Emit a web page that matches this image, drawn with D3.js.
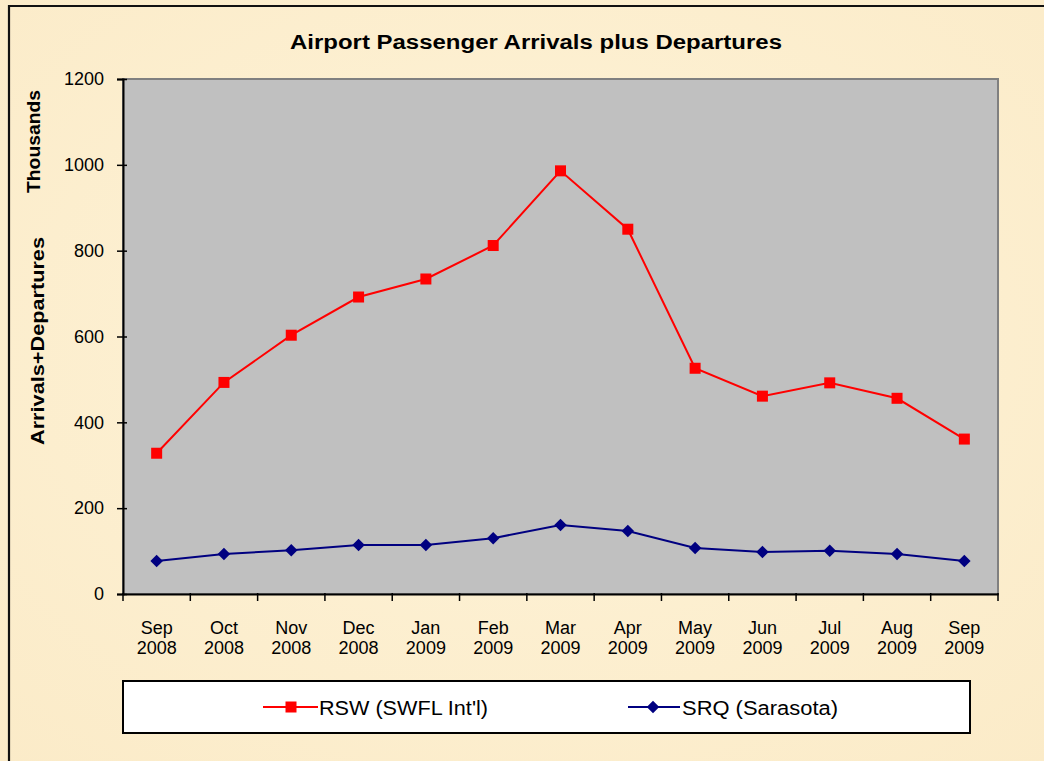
<!DOCTYPE html>
<html><head><meta charset="utf-8">
<script src="https://cdn.jsdelivr.net/npm/d3@7"></script>
<style>
html,body{margin:0;padding:0;background:#fdf1d4;}
svg{display:block;font-family:"Liberation Sans",Arial,sans-serif;}
</style></head>
<body><svg id="c" width="1044" height="761"></svg>
<script>
const categories = ["Sep 2008","Oct 2008","Nov 2008","Dec 2008","Jan 2009","Feb 2009","Mar 2009","Apr 2009","May 2009","Jun 2009","Jul 2009","Aug 2009","Sep 2009"];
const rswValues = [328, 493, 603, 692, 734, 812, 986, 850, 526, 461, 492, 456, 361];
const srqValues = [77, 93, 102, 114, 114, 130, 161, 147, 107, 98, 101, 93, 77];
const yTicks = [0, 200, 400, 600, 800, 1000, 1200];
const seriesNames = ["RSW (SWFL  Int'l)", "SRQ (Sarasota)"];

const svg = d3.select("#c");
const W = 1044, H = 761;

const defs = svg.append("defs");
const rg = defs.append("radialGradient").attr("id","bg").attr("cx","50%").attr("cy","45%").attr("r","75%");
rg.append("stop").attr("offset","0%").attr("stop-color","#fef3d8");
rg.append("stop").attr("offset","100%").attr("stop-color","#fbebc8");
svg.append("rect").attr("width",W).attr("height",H).attr("fill","url(#bg)");

svg.append("path").attr("d","M9,761 V6 H1044").attr("fill","none").attr("stroke","#111").attr("stroke-width",2.2);

const plot = {l:123, r:998, t:79, b:594};
const x = d3.scaleBand().domain(categories).range([plot.l, plot.r]).paddingInner(0).paddingOuter(0);
const y = d3.scaleLinear().domain([0,1200]).range([plot.b, plot.t]);

svg.append("rect").attr("x",plot.l).attr("y",plot.t).attr("width",plot.r-plot.l).attr("height",plot.b-plot.t)
  .attr("fill","#c0c0c0").attr("stroke","#808080").attr("stroke-width",2);

svg.append("text").attr("x",290).attr("y",49)
  .attr("font-weight","bold").attr("font-size",20).attr("fill","#000")
  .attr("textLength",492).attr("lengthAdjust","spacingAndGlyphs")
  .text("Airport Passenger Arrivals plus Departures");

const yAxis = d3.axisLeft(y).tickValues(yTicks).tickSize(6).tickPadding(13).tickFormat(d3.format("d"));
const gy = svg.append("g").attr("transform",`translate(${plot.l},0)`).call(yAxis);
gy.select(".domain").attr("stroke","#000").attr("stroke-width",2);
gy.selectAll(".tick line").attr("stroke","#000").attr("stroke-width",1.5).attr("x2",-6).attr("x1",4);
gy.selectAll(".tick text").attr("font-size",18).attr("fill","#000").attr("font-family","Liberation Sans, Arial, sans-serif");

const xAxis = d3.axisBottom(x).tickSize(0).tickFormat("");
const gx = svg.append("g").attr("transform",`translate(0,${plot.b})`).call(xAxis);
gx.select(".domain").attr("stroke","#000").attr("stroke-width",2);
const bounds = categories.map(c => x(c)).concat([x(categories[categories.length-1]) + x.bandwidth()]);
gx.selectAll("line.bt").data(bounds).join("line").attr("class","bt")
  .attr("x1",d=>d).attr("x2",d=>d).attr("y1",-1).attr("y2",7).attr("stroke","#000").attr("stroke-width",1.5);
const lbl = svg.append("g");
categories.forEach(c => {
  const parts = c.split(" ");
  const cxv = x(c) + x.bandwidth()/2;
  const t = lbl.append("text").attr("text-anchor","middle").attr("font-size",18).attr("fill","#000");
  t.append("tspan").attr("x", cxv).attr("y",634).text(parts[0]);
  t.append("tspan").attr("x", cxv).attr("y",654).text(parts[1]);
});

svg.append("text").attr("transform","translate(40,193) rotate(-90)")
  .attr("font-weight","bold").attr("font-size",19)
  .attr("textLength",103).attr("lengthAdjust","spacingAndGlyphs").text("Thousands");
svg.append("text").attr("transform","translate(44,445) rotate(-90)")
  .attr("font-weight","bold").attr("font-size",19)
  .attr("textLength",208).attr("lengthAdjust","spacingAndGlyphs").text("Arrivals+Departures");

const cx = c => x(c) + x.bandwidth()/2;
const line = d3.line().x(d=>cx(d.c)).y(d=>y(d.v));
const rsw = categories.map((c,i)=>({c, v:rswValues[i]}));
const srq = categories.map((c,i)=>({c, v:srqValues[i]}));

svg.append("path").datum(srq).attr("d",line).attr("fill","none").attr("stroke","#000080").attr("stroke-width",2);
svg.append("path").datum(rsw).attr("d",line).attr("fill","none").attr("stroke","#ff0000").attr("stroke-width",2);

const diamond = d3.symbol().type(d3.symbolDiamond2).size(100);
svg.selectAll("path.srq").data(srq).join("path").attr("class","srq")
  .attr("d", diamond).attr("transform",d=>`translate(${cx(d.c)},${y(d.v)})`).attr("fill","#000080");
svg.selectAll("rect.rsw").data(rsw).join("rect").attr("class","rsw")
  .attr("x",d=>cx(d.c)-5.5).attr("y",d=>y(d.v)-5.5).attr("width",11).attr("height",11).attr("fill","#ff0000");

svg.append("rect").attr("x",123).attr("y",681).attr("width",847).attr("height",52)
  .attr("fill","#fff").attr("stroke","#000").attr("stroke-width",2);
const lg = svg.append("g");
lg.append("line").attr("x1",263).attr("x2",318).attr("y1",707).attr("y2",707).attr("stroke","#ff0000").attr("stroke-width",2);
lg.append("rect").attr("x",285.5).attr("y",701.5).attr("width",11).attr("height",11).attr("fill","#ff0000");
lg.append("text").attr("x",319).attr("y",715).attr("font-size",20)
  .attr("textLength",169).attr("lengthAdjust","spacingAndGlyphs").text(seriesNames[0]);
lg.append("line").attr("x1",628).attr("x2",680).attr("y1",707).attr("y2",707).attr("stroke","#000080").attr("stroke-width",2);
lg.append("path").attr("d",diamond).attr("transform","translate(653,707)").attr("fill","#000080");
lg.append("text").attr("x",682).attr("y",715).attr("font-size",20)
  .attr("textLength",156).attr("lengthAdjust","spacingAndGlyphs").text(seriesNames[1]);
</script></body></html>
